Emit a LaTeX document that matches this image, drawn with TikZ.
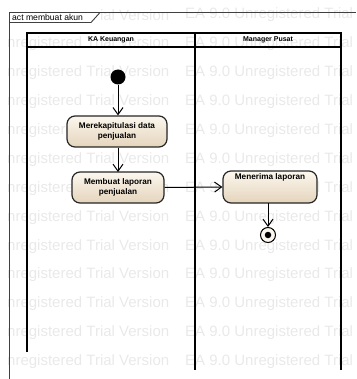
\documentclass[tikz,border=0pt]{standalone}
\usepackage{fontspec}
\setmainfont{Liberation Sans}
\usetikzlibrary{arrows.meta}
\definecolor{wmgray}{RGB}{233,233,233}
\definecolor{actlight}{RGB}{252,247,238}
\definecolor{actdark}{RGB}{228,212,188}
\tikzset{
  wm/.style={text=wmgray, font=\fontsize{15}{17}\selectfont, anchor=west, inner sep=0pt},
  action/.style={draw=black!85, line width=1.2pt, rounded corners=8pt, top color=actlight, bottom color=actdark, shading angle=0,
    font=\bfseries\fontsize{8.2}{10}\selectfont, align=center, inner sep=0pt},
  lane/.style={draw=black, line width=1.2pt},
  framel/.style={draw=black!75, line width=0.9pt},
  arr/.style={draw=black, line width=1pt, -{Straight Barb[length=7pt,width=10pt,line width=1pt]}},
  hdr/.style={font=\bfseries\fontsize{7}{9}\selectfont, inner sep=0pt},
}
\begin{document}
\begin{tikzpicture}[x=1pt,y=-1pt]
\useasboundingbox (0,0) rectangle (356,379);
% watermark
\foreach \k in {1,...,12}{
  \node[wm] (wma\k) at (7,{15+28.9*\k}) {nregistered Trial Version};
}
\foreach \k in {0,...,12}{
  \node[wm] (wmb\k) at (185,{15+28.9*\k}) {EA 9.0 Unregistered Trial};
}
\node[wm, anchor=east] (wma0) at (wma1.east |- 0,15) {ial Version};
% frame
\fill[white] (9,12.5) -- (9,22.5) -- (91,22.5) -- (100,12.5) -- cycle;
\draw[framel] (9,379) -- (9,12.5) -- (356,12.5);
\draw[framel] (9,22.5) -- (91,22.5) -- (100,12.5);
\node[anchor=west, inner sep=0pt, font=\fontsize{8.6}{9}\selectfont] (flabel) at (12,17.5) {act membuat akun};
% swimlanes
\draw[lane] (27,352) -- (27,33) -- (341,33) -- (341,370);
\draw[lane] (27,47) -- (341,47);
\draw[lane] (195,33) -- (195,370);
\node[hdr] (h1) at (111,40) {KA Keuangan};
\node[hdr] (h2) at (268,40) {Manager Pusat};
% nodes
\node[circle, fill=black, minimum size=15pt, inner sep=0pt] (init) at (118,77) {};
\node[action, minimum width=100pt, minimum height=31pt] (a1) at (117,131.5) {Merekapitulasi data\\penjualan};
\node[action, minimum width=92pt, minimum height=31pt] (a2) at (118,187.5) {Membuat laporan\\penjualan};
\node[action, minimum width=94pt, minimum height=32pt] (a3) at (270,187) {Menerima laporan\\[10pt]};
\node[circle, draw=black, line width=1pt, fill=actlight, minimum size=15pt, inner sep=0pt] (fin) at (268,235) {};
\node[circle, fill=black, minimum size=6.5pt, inner sep=0pt] (finin) at (fin) {};
% connectors
\draw[arr] (init) -- (init |- a1.north);
\draw[arr] (a1.south -| 118,0) -- (118,172);
\draw[arr] (a2.east) -- (a3.west);
\draw[arr] (268,203) -- (fin.north);
\end{tikzpicture}
\end{document}
